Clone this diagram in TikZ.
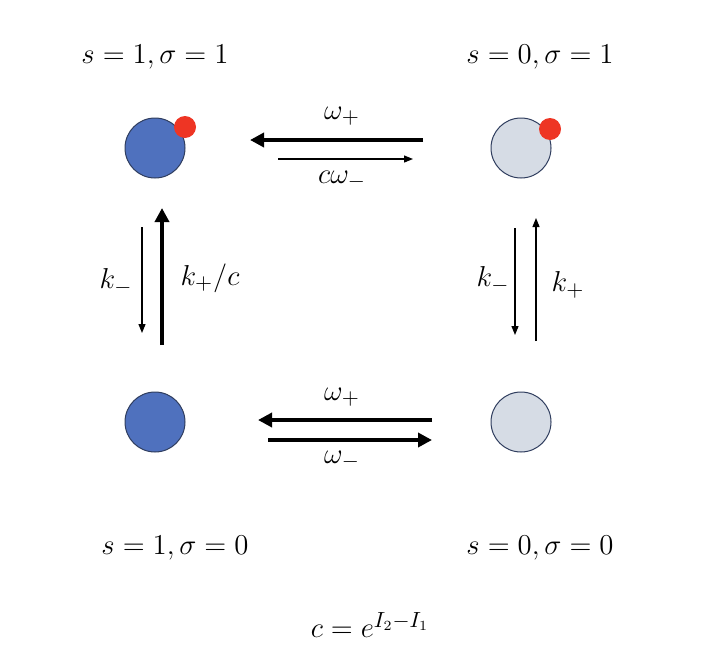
\documentclass[tikz,border=0pt]{standalone}
\usetikzlibrary{arrows.meta}
\definecolor{etatbleu}{HTML}{4F71BE}
\definecolor{etatgris}{HTML}{D6DCE5}
\definecolor{bord}{HTML}{2F3D5E}
\definecolor{point}{HTML}{EE3524}
\tikzset{
  etat/.style={circle, draw=bord, line width=0.5pt, minimum size=30pt, inner sep=0pt},
  marque/.style={circle, fill=point, minimum size=11pt, inner sep=0pt},
  fort/.style={line width=2pt, -{Triangle[length=7pt,width=7pt]}},
  fin/.style={line width=0.6pt, -{Triangle[length=4.5pt,width=3.5pt]}},
}
\begin{document}
\begin{tikzpicture}[x=0.5pt,y=-0.5pt,font=\fontsize{15}{18}\selectfont]
  \pgfmathsetmacro{\xg}{155}
  \pgfmathsetmacro{\xd}{521}
  \pgfmathsetmacro{\yh}{148}
  \pgfmathsetmacro{\yb}{422}
  \useasboundingbox (0,0) rectangle (710,664);
  % les quatre etats
  \node[etat,fill=etatbleu] (unun) at (\xg,\yh) {};
  \node[etat,fill=etatgris] (zeroun) at (\xd,\yh) {};
  \node[etat,fill=etatbleu] (unzero) at (\xg,\yb) {};
  \node[etat,fill=etatgris] (zerozero) at (\xd,\yb) {};
  \node[marque] (pointg) at (\xg+30,\yh-21) {};
  \node[marque] (pointd) at (\xd+29,\yh-19) {};
  % etiquettes des etats
  \node (eunun) at (\xg,57) {$s=1,\sigma=1$};
  \node (ezeroun) at (540,57) {$s=0,\sigma=1$};
  \node (eunzero) at (175,548) {$s=1,\sigma=0$};
  \node (ezerozero) at (540,548) {$s=0,\sigma=0$};
  \node (formule) at (370,625) {$c=e^{I_2-I_1}$};
  % fleches horizontales
  \coordinate (hg) at (250,140); \coordinate (hd) at (423,140);
  \coordinate (hgb) at (278,159); \coordinate (hdb) at (413,159);
  \draw[fort] (hd) -- (hg);
  \draw[fin] (hgb) -- (hdb);
  \node (wph) at (342,116) {$\omega_+$};
  \node (cwm) at (342,180) {$c\omega_-$};
  \coordinate (bg) at (258,420); \coordinate (bd) at (432,420);
  \coordinate (bgb) at (268,440); \coordinate (bdb) at (432,440);
  \draw[fort] (bd) -- (bg);
  \draw[fort] (bgb) -- (bdb);
  \node (wpb) at (342,397) {$\omega_+$};
  \node (wmb) at (342,460) {$\omega_-$};
  % fleches verticales
  \coordinate (gh) at (142,227); \coordinate (gb) at (142,333);
  \coordinate (ghf) at (162,208); \coordinate (gbf) at (162,345);
  \draw[fin] (gh) -- (gb);
  \draw[fort] (gbf) -- (ghf);
  \node (kmg) at (116,282) {$k_-$};
  \node (kpc) at (210,278) {$k_+/c$};
  \coordinate (dh) at (515,228); \coordinate (db) at (515,335);
  \coordinate (dhm) at (536,218); \coordinate (dbm) at (536,341);
  \draw[fin] (dh) -- (db);
  \draw[fin] (dbm) -- (dhm);
  \node (kmd) at (493,280) {$k_-$};
  \node (kpd) at (568,285) {$k_+$};
\end{tikzpicture}
\end{document}
